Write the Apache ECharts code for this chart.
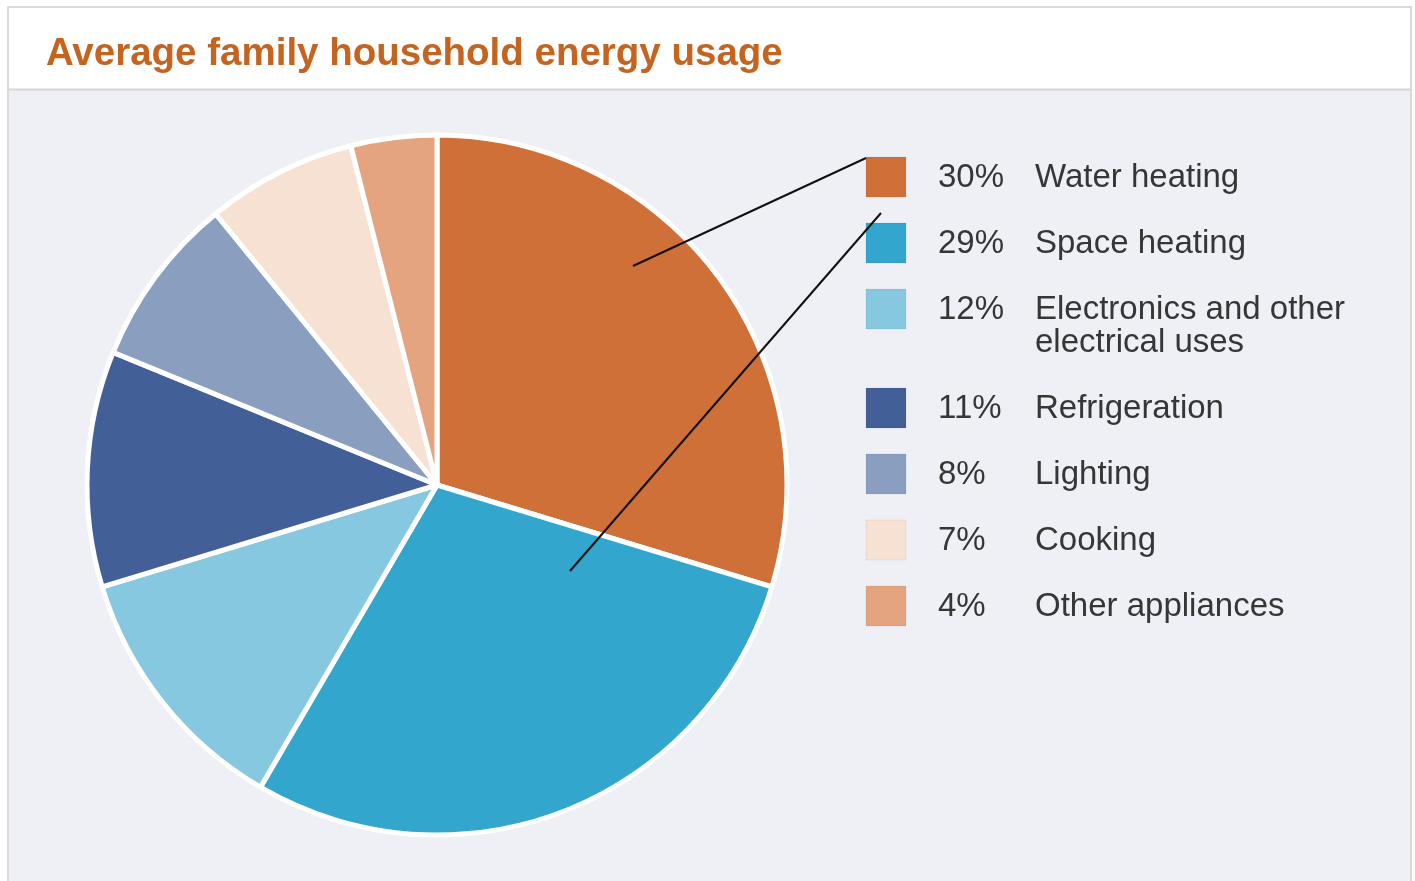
<!DOCTYPE html>
<html>
<head>
<meta charset="utf-8">
<title>Average family household energy usage</title>
<script src="https://cdn.jsdelivr.net/npm/echarts@6/dist/echarts.min.js"></script>
<style>
  html, body { margin: 0; padding: 0; background: #ffffff; }
  #chart { width: 1415px; height: 881px; }
</style>
</head>
<body>
<div id="chart"></div>
<script>
// data
const categories = ['Water heating', 'Space heating', 'Electronics and other\nelectrical uses',
  'Refrigeration', 'Lighting', 'Cooking', 'Other appliances'];
const shares = [30, 29, 12, 11, 8, 7, 4];
const colors = ['#d07039', '#32a6cc', '#86c8e0', '#435f97', '#8a9ec0', '#f6e1d3', '#e3a47f'];

const FONT = '"Liberation Sans", Arial, sans-serif';
const chart = echarts.init(document.getElementById('chart'), null, { renderer: 'canvas' });

// legend rows: squares + percentage + name (two line names take extra room)
function legendGraphics() {
  const out = [];
  let y = 177;
  categories.forEach((name, i) => {
    const lines = name.split('\n').length;
    out.push({
      type: 'rect', z: 10,
      shape: { x: 866, y: y - 20, width: 40, height: 40 },
      style: { fill: colors[i], stroke: 'rgba(0,0,0,0.06)', lineWidth: 1 }
    });
    out.push({
      type: 'text', z: 10,
      style: { x: 938, y: y + 1, text: shares[i] + '%', font: '33px ' + FONT,
        fill: '#363636', verticalAlign: 'middle' }
    });
    out.push({
      type: 'text', z: 10,
      style: { x: 1035, y: y - 16, text: name, font: '33px ' + FONT, lineHeight: 33,
        fill: '#363636', verticalAlign: 'top' }
    });
    y += 66 + (lines - 1) * 33;
  });
  return out;
}

// frame around chart, white title band, grey plot area
const frame = [
  { type: 'rect', z: -10, shape: { x: 8, y: 7, width: 1403, height: 890 },
    style: { fill: '#eef0f5', stroke: '#d9d9d9', lineWidth: 2 } },
  { type: 'rect', z: -9, shape: { x: 9, y: 8, width: 1401, height: 81 },
    style: { fill: '#ffffff' } },
  { type: 'line', z: -8, shape: { x1: 9, y1: 89.5, x2: 1410, y2: 89.5 },
    style: { stroke: '#d6d6d6', lineWidth: 2 } }
];

// annotation leader lines
const leaders = [
  { type: 'line', z: 20, shape: { x1: 633, y1: 266, x2: 866, y2: 158 },
    style: { stroke: '#111', lineWidth: 2 } },
  { type: 'line', z: 20, shape: { x1: 570, y1: 571, x2: 881, y2: 213 },
    style: { stroke: '#111', lineWidth: 2 } }
];

chart.setOption({
  backgroundColor: '#ffffff',
  animation: false,
  title: {
    text: 'Average family household energy usage',
    left: 41, top: 30,
    textStyle: { color: '#c5631f', fontSize: 38.5, fontWeight: 'bold', fontFamily: FONT }
  },
  graphic: frame.concat(legendGraphics(), leaders),
  series: [{
    type: 'pie',
    center: [437, 485],
    radius: 350,
    startAngle: 90,
    clockwise: true,
    label: { show: false },
    labelLine: { show: false },
    emphasis: { disabled: true },
    itemStyle: { borderColor: '#ffffff', borderWidth: 5 },
    data: categories.map((name, i) => ({ name, value: shares[i], itemStyle: { color: colors[i] } }))
  }]
});
</script>
</body>
</html>
